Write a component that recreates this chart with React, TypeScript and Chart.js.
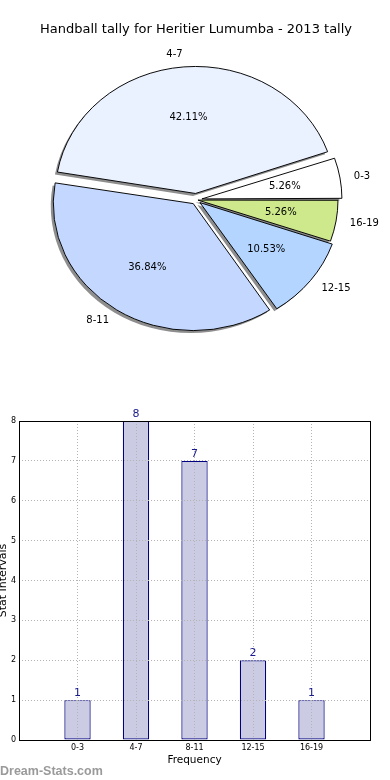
import React, { useEffect, useRef } from 'react';
import { Chart, registerables } from 'chart.js';

Chart.register(...registerables);

// ---------- data ----------
const chartTitle = 'Handball tally for Heritier Lumumba - 2013 tally';
const categories = ['0-3', '4-7', '8-11', '12-15', '16-19'];
const counts = [1, 8, 7, 2, 1];
const sliceColors = ['#ffffff', '#eaf1ff', '#c4d8ff', '#b3d5ff', '#cee98b'];
const explodePx = [6, 7, 5, 5, 2];
const yAxisTitle = 'Stat Intervals';
const xAxisTitle = 'Frequency';
const watermark = 'Dream-Stats.com';

// ---------- style ----------
const FONT = '"DejaVu Sans", sans-serif';
const PIE_R = 140;
const ELLIPSE_K = 127 / 140;
const BAR_FILL = '#cbcbe3';
const BAR_EDGE = '#000080';
const LABEL_BLUE = '#1a1a8c';
const GRID = '#b4b4b4';

// pie drawn clockwise from 3 o'clock in Chart.js, so reverse to mimic counter-clockwise order
const pieLabels = [...categories].reverse();
const pieData = [...counts].reverse();
const pieColors = [...sliceColors].reverse();
const pieOffsets = [...explodePx].reverse().map((t) => t * 4);

const applyEllipse = (ctx: CanvasRenderingContext2D, cx: number, cy: number) => {
  ctx.translate(cx, cy);
  ctx.scale(1, ELLIPSE_K);
  ctx.translate(-cx, -cy);
};

const pieDecor = {
  id: 'pieDecor',
  afterDatasetsUpdate(chart: any) {
    const meta = chart.getDatasetMeta(0);
    meta.data.forEach((arc: any) => {
      const t = (arc.options.offset || 0) / 4;
      const fix = 1 - Math.sin(Math.min(Math.PI, arc.circumference || 0));
      arc.outerRadius = arc.outerRadius - t * fix;
    });
  },
  beforeDatasetsDraw(chart: any) {
    const ctx = chart.ctx as CanvasRenderingContext2D;
    const meta = chart.getDatasetMeta(0);
    const cx = meta.data[0].x;
    const cy = meta.data[0].y;
    // shadows underneath all wedges
    ctx.save();
    ctx.translate(-2.5, 2.5);
    applyEllipse(ctx, cx, cy);
    meta.data.forEach((arc: any) => {
      const s = Object.create(arc);
      s.options = Object.assign({}, arc.options, {
        backgroundColor: '#8e8e8e',
        borderWidth: 0,
      });
      s.draw(ctx);
    });
    ctx.restore();
    ctx.save();
    applyEllipse(ctx, cx, cy);
  },
  afterDatasetsDraw(chart: any) {
    const ctx = chart.ctx as CanvasRenderingContext2D;
    ctx.restore();
    const meta = chart.getDatasetMeta(0);
    const data = chart.data.datasets[0].data as number[];
    const total = data.reduce((a, b) => a + b, 0);
    const R = meta.controller.outerRadius;
    const cy = meta.data[0].y;
    ctx.save();
    ctx.font = `10px ${FONT}`;
    ctx.fillStyle = '#000';
    ctx.textBaseline = 'middle';
    meta.data.forEach((arc: any, i: number) => {
      const mid = (arc.startAngle + arc.endAngle) / 2;
      const t = (arc.options.offset || 0) / 4;
      const c = Math.cos(mid);
      const s = Math.sin(mid);
      const ex = arc.x + c * t;
      const ey = arc.y + s * t;
      // percentage
      const px = ex + c * 0.6 * R;
      const py = cy + (ey + s * 0.6 * R - cy) * ELLIPSE_K;
      ctx.textAlign = 'center';
      ctx.fillText(((data[i] / total) * 100).toFixed(2) + '%', px, py);
      // label
      const lx = ex + c * 1.1 * R;
      const ly = cy + (ey + s * 1.1 * R - cy) * ELLIPSE_K;
      ctx.textAlign = c > 0 ? 'left' : 'right';
      ctx.fillText(String(chart.data.labels[i]), lx, ly);
    });
    ctx.restore();
  },
};

const barDecor = {
  id: 'barDecor',
  afterDraw(chart: any) {
    const { ctx, chartArea } = chart;
    ctx.save();
    ctx.strokeStyle = '#000';
    ctx.lineWidth = 1;
    const l = Math.round(chartArea.left) + 0.5;
    const t = Math.round(chartArea.top) + 0.5;
    const r = Math.round(chartArea.right) + 0.5;
    const b = Math.round(chartArea.bottom) + 0.5;
    ctx.strokeRect(l, t, r - l, b - t);
    ctx.restore();

    const meta = chart.getDatasetMeta(0);
    const data = chart.data.datasets[0].data as any[];
    ctx.save();
    ctx.font = `11px ${FONT}`;
    ctx.fillStyle = LABEL_BLUE;
    ctx.textAlign = 'center';
    ctx.textBaseline = 'alphabetic';
    meta.data.forEach((bar: any, i: number) => {
      ctx.fillText(String(data[i].y), bar.x, bar.y - 4);
    });
    ctx.restore();
  },
};

export default function App() {
  const pieRef = useRef<HTMLCanvasElement>(null);
  const barRef = useRef<HTMLCanvasElement>(null);

  useEffect(() => {
    Chart.defaults.font.family = FONT;
    const pie = new Chart(pieRef.current!, {
      type: 'pie',
      data: {
        labels: pieLabels,
        datasets: [
          {
            data: pieData,
            backgroundColor: pieColors,
            borderColor: '#000',
            borderWidth: 1,
            offset: pieOffsets,
          },
        ],
      },
      options: {
        animation: false,
        responsive: false,
        events: [],
        rotation: 90,
        radius: PIE_R,
        layout: { padding: { left: 2, right: 0, top: 0, bottom: 18 } },
        plugins: {
          legend: { display: false },
          tooltip: { enabled: false },
          title: {
            display: true,
            text: chartTitle,
            color: '#000',
            font: { family: FONT, size: 13, weight: 'normal' },
            padding: { top: 22, bottom: 0 },
          },
        },
      } as any,
      plugins: [pieDecor],
    });

    const bar = new Chart(barRef.current!, {
      type: 'bar',
      data: {
        datasets: [
          {
            data: categories.map((_, i) => ({ x: i, y: counts[i] })),
            backgroundColor: BAR_FILL,
            borderColor: BAR_EDGE,
            borderWidth: 1.2,
            borderSkipped: false,
            barPercentage: 0.45,
            categoryPercentage: 1,
          },
        ],
      },
      options: {
        animation: false,
        responsive: false,
        events: [],
        layout: { padding: { left: 0, right: 20, top: 21, bottom: 0 } },
        plugins: { legend: { display: false }, tooltip: { enabled: false } },
        scales: {
          x: {
            type: 'linear',
            min: -1,
            max: 5,
            offset: false,
            ticks: {
              stepSize: 1,
              autoSkip: false,
              maxRotation: 0,
              color: '#000',
              padding: 3,
              font: { family: FONT, size: 8 },
              callback: (v: any) => categories[v] ?? '',
            },
            grid: { color: GRID, lineWidth: 1, drawTicks: false, offset: false, z: 1 },
            border: { display: false, dash: [1, 2] },
            title: {
              display: true,
              text: xAxisTitle,
              color: '#000',
              font: { family: FONT, size: 10.5 },
              padding: { top: 0, bottom: 13 },
            },
            afterFit: (s: any) => {
              s.height = 40;
            },
          },
          y: {
            min: 0,
            max: 8,
            ticks: {
              stepSize: 1,
              color: '#000',
              padding: 3,
              font: { family: FONT, size: 8 },
            },
            grid: { color: GRID, lineWidth: 1, drawTicks: false, z: 1 },
            border: { display: false, dash: [1, 2] },
            title: {
              display: true,
              text: yAxisTitle,
              color: '#000',
              font: { family: FONT, size: 11 },
              padding: { top: -3.5, bottom: 0 },
            },
            afterFit: (s: any) => {
              s.width = 19;
            },
          },
        },
      } as any,
      plugins: [barDecor],
    });

    return () => {
      pie.destroy();
      bar.destroy();
    };
  }, []);

  return (
    <div style={{ position: 'absolute', left: 0, top: 0, width: 390, height: 780, background: '#fff', overflow: 'hidden' }}>
      <canvas ref={pieRef} width={390} height={380} style={{ position: 'absolute', left: 0, top: 0 }} />
      <canvas ref={barRef} width={390} height={380} style={{ position: 'absolute', left: 0, top: 400 }} />
      <div
        style={{
          position: 'absolute',
          left: 0,
          top: 764,
          font: 'bold 12.5px "Liberation Sans", Arial, sans-serif',
          color: '#9a9a9a',
          lineHeight: '14px',
          whiteSpace: 'nowrap',
        }}
      >
        {watermark}
      </div>
    </div>
  );
}
